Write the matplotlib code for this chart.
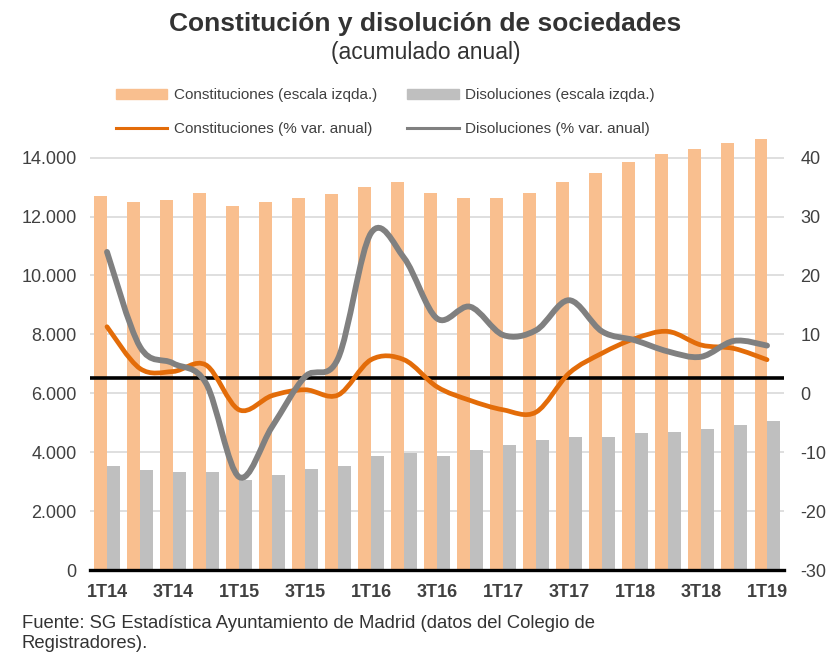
import matplotlib
matplotlib.use("Agg")
import matplotlib.pyplot as plt
from matplotlib.path import Path
from matplotlib.patches import PathPatch
from matplotlib.lines import Line2D
from matplotlib.patches import Patch
import numpy as np

plt.rcParams['font.family'] = ['Liberation Sans', 'DejaVu Sans']
plt.rcParams['axes.unicode_minus'] = False

quarters = ['1T14', '2T14', '3T14', '4T14', '1T15', '2T15', '3T15', '4T15',
            '1T16', '2T16', '3T16', '4T16', '1T17', '2T17', '3T17', '4T17',
            '1T18', '2T18', '3T18', '4T18', '1T19']
constituciones = [12700, 12480, 12580, 12810, 12370, 12480, 12640, 12750,
                  13010, 13180, 12810, 12640, 12640, 12810, 13180, 13470,
                  13850, 14130, 14290, 14510, 14630]
disoluciones = [3540, 3380, 3320, 3320, 3050, 3210, 3430, 3540,
                3870, 3970, 3870, 4080, 4250, 4410, 4530, 4530,
                4640, 4700, 4800, 4910, 5070]
constituciones_var = [11.3, 4.2, 3.7, 4.8, -2.8, -0.4, 0.6, -0.3,
                      5.7, 5.7, 1.1, -1.2, -2.8, -3.2, 3.4, 6.8,
                      9.3, 10.5, 8.2, 7.6, 5.7]
disoluciones_var = [24.0, 7.9, 5.1, 1.7, -14.2, -5.7, 2.8, 5.9,
                    27.2, 23.0, 12.7, 14.7, 9.9, 10.7, 15.8, 10.5,
                    9.0, 7.1, 6.2, 8.9, 8.1]
referencia = 2.6  # linea negra horizontal (escala dcha.)

c_bar_or = '#F9BF8F'
c_bar_gr = '#BFBFBF'
c_line_or = '#E36C09'
c_line_gr = '#808080'
c_text = '#404040'


def smooth_path(x, y):
    # curva suavizada tipo Excel (Catmull-Rom pasado a Bezier)
    pts = np.column_stack([x, y]).astype(float)
    ext = np.vstack([pts[0], pts, pts[-1]])
    verts = [pts[0]]
    codes = [Path.MOVETO]
    for i in range(len(pts) - 1):
        p0, p1, p2, p3 = ext[i], ext[i + 1], ext[i + 2], ext[i + 3]
        verts += [p1 + (p2 - p0) / 6, p2 - (p3 - p1) / 6, p2]
        codes += [Path.CURVE4] * 3
    return Path(verts, codes)


fig = plt.figure(figsize=(8.34, 6.53), dpi=100)
ax = fig.add_axes([0.1085, 0.1271, 0.831, 0.663])
ax2 = ax.twinx()

x = np.arange(len(quarters))
w = 0.38
ax.bar(x - w / 2, constituciones, w, color=c_bar_or, zorder=2)
ax.bar(x + w / 2, disoluciones, w, color=c_bar_gr, zorder=2)

ax.set_ylim(0, 14700)
ax.set_yticks(np.arange(0, 14001, 2000))
ax.set_yticklabels(['{:,}'.format(v).replace(',', '.') for v in range(0, 14001, 2000)])
ax.set_xlim(-0.5, len(quarters) - 0.5)
ax.set_xticks(x[::2])
ax.set_xticklabels(quarters[::2], fontweight='bold')
ax.grid(axis='y', color='#D9D9D9', lw=1.2, zorder=0)
ax.set_axisbelow(True)

ax2.set_ylim(-30, 43.5)
ax2.set_yticks(np.arange(-30, 41, 10))

for a in (ax, ax2):
    for s in ('top', 'left', 'right'):
        a.spines[s].set_visible(False)
    a.tick_params(length=0, labelsize=13, colors=c_text)
ax.spines['bottom'].set_color('black')
ax.spines['bottom'].set_linewidth(2.4)
ax2.spines['bottom'].set_visible(False)
ax.tick_params(axis='y', pad=10)
ax.tick_params(axis='x', pad=10)
ax2.tick_params(axis='y', pad=12)

ax2.axhline(referencia, color='black', lw=2.6, zorder=3)
ax2.add_patch(PathPatch(smooth_path(x, constituciones_var), fill=False,
                        edgecolor=c_line_or, lw=3.4, zorder=4, capstyle='round'))
ax2.add_patch(PathPatch(smooth_path(x, disoluciones_var), fill=False,
                        edgecolor=c_line_gr, lw=4.2, zorder=5, capstyle='round'))

# orden por columnas para que las barras queden en la primera fila
handles = [Patch(color=c_bar_or), Line2D([], [], color=c_line_or, lw=2.2),
           Patch(color=c_bar_gr), Line2D([], [], color=c_line_gr, lw=2.2)]
labels = ['Constituciones (escala izqda.)', 'Constituciones (% var. anual)',
          'Disoluciones (escala izqda.)', 'Disoluciones (% var. anual)']
fig.legend(handles, labels, ncol=2, loc='center', bbox_to_anchor=(0.462, 0.828),
           frameon=False, fontsize=11, handlelength=3.4, handleheight=0.6,
           handletextpad=0.4, columnspacing=2.0, labelspacing=1.3,
           labelcolor=c_text)

fig.text(0.51, 0.963, 'Constitución y disolución de sociedades', ha='center',
         va='center', fontsize=19, fontweight='bold', color='#333333')
fig.text(0.51, 0.919, '(acumulado anual)', ha='center', va='center',
         fontsize=16.5, color='#333333')
fig.text(0.026, 0.030, 'Fuente: SG Estadística Ayuntamiento de Madrid (datos del Colegio de\nRegistradores).',
         ha='left', va='center', fontsize=13.3, color='#333333', linespacing=1.25)

fig.savefig('out.png', dpi=100)
